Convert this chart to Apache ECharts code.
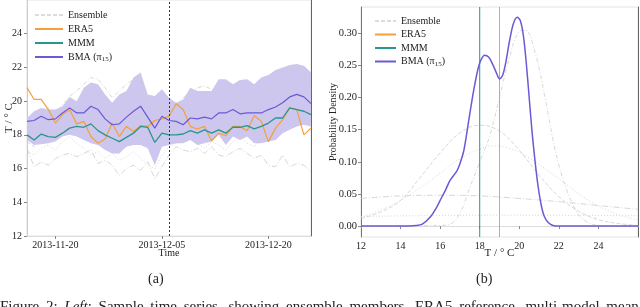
<!DOCTYPE html>
<html><head><meta charset="utf-8">
<script src="https://cdn.jsdelivr.net/npm/echarts@6/dist/echarts.min.js"></script>
<style>html,body{margin:0;padding:0;background:#fff}#c{width:640px;height:307px}</style>
</head><body><div id="c"></div>
<script>
// ---------- Left panel: time series ----------
const dates = ['2013-11-16','2013-11-17','2013-11-18','2013-11-19','2013-11-20','2013-11-21','2013-11-22','2013-11-23','2013-11-24','2013-11-25',
  '2013-11-26','2013-11-27','2013-11-28','2013-11-29','2013-11-30','2013-12-01','2013-12-02','2013-12-03','2013-12-04','2013-12-05',
  '2013-12-06','2013-12-07','2013-12-08','2013-12-09','2013-12-10','2013-12-11','2013-12-12','2013-12-13','2013-12-14','2013-12-15',
  '2013-12-16','2013-12-17','2013-12-18','2013-12-19','2013-12-20','2013-12-21','2013-12-22','2013-12-23','2013-12-24','2013-12-25','2013-12-26'];
const era5 = [20.8,20.1,20.1,19.5,18.7,19.2,19.5,18.65,18.8,17.9,17.5,17.75,18.7,17.9,18.5,18.2,18.55,18.5,18.85,18.95,
  19.1,19.85,19.5,18.5,18.35,18.5,17.65,18.1,17.95,18.5,18.5,18.25,19.15,18.8,17.6,18.4,18.9,19.6,19.5,18.0,18.4];
const mmm = [18.0,17.7,18.05,17.9,17.85,18.1,18.4,18.5,18.45,18.65,18.25,18.0,17.8,17.6,17.85,18.1,18.5,18.45,17.55,18.1,
  18.0,18.0,18.05,18.25,18.1,18.3,18.1,18.3,18.1,18.45,18.45,18.55,18.35,18.5,18.7,19.0,19.0,19.6,19.5,19.4,19.2];
const bma = [18.8,18.85,19.1,18.9,18.95,19.3,19.6,19.3,19.3,19.7,19.5,18.95,18.6,18.65,19.05,19.4,19.7,19.05,18.4,19.1,
  18.85,18.8,18.6,19.0,18.95,19.05,18.95,19.3,19.3,19.5,19.25,19.3,19.3,19.3,19.5,19.65,19.9,20.25,20.4,20.25,19.85];
const bandLow = [17.7,17.4,17.45,17.5,17.6,17.9,18.0,17.9,17.7,17.5,17.4,17.1,16.9,16.9,17.3,17.4,17.4,17.2,16.2,17.3,
  17.4,17.5,17.5,17.7,17.4,17.5,17.6,18.0,17.4,17.9,17.7,17.9,17.5,17.5,17.6,17.7,18.1,18.3,18.5,18.6,18.5];
const bandHigh = [19.0,19.4,19.6,19.5,19.5,19.7,20.25,20.0,20.8,21.1,21.0,20.4,19.9,20.4,20.6,21.4,21.7,20.4,20.3,20.7,
  20.2,19.9,20.1,20.8,20.6,20.6,20.6,21.3,21.3,21.0,21.25,21.3,21.0,21.4,21.55,21.85,22.0,22.15,22.2,22.1,21.7];
const ens1 = [18.4,18.9,19.3,19.6,19.2,19.8,20.3,20.6,21.0,21.4,21.3,20.8,20.2,20.6,21.0,21.3,21.5,20.1,19.5,19.6,
  19.2,19.6,20.2,20.5,20.8,20.9,20.7,20.6,20.9,21.0,20.7,20.2,19.8,20.1,20.6,21.2,21.6,21.9,22.1,21.4,20.7];
const ens2 = [17.6,17.3,17.9,18.2,18.0,18.6,18.3,18.9,19.3,18.8,18.4,18.1,17.5,17.8,18.3,18.9,19.4,18.7,17.8,18.4,
  17.8,18.6,19.0,19.2,18.7,18.4,17.9,18.5,18.2,18.6,18.9,18.4,18.0,18.8,19.2,19.6,20.1,20.6,21.2,21.6,20.9];
const ens3 = [17.0,16.8,17.2,17.4,17.1,17.6,17.9,17.5,17.2,16.8,17.0,16.6,16.9,16.5,16.7,17.0,16.6,16.2,16.0,16.8,
  17.3,17.5,17.6,17.8,17.5,17.2,17.6,17.4,17.1,17.6,17.9,17.5,17.3,17.7,18.0,18.3,18.6,18.5,18.9,18.6,18.2];
const ens4 = [17.2,16.1,16.4,16.2,16.6,16.8,16.9,16.7,16.9,17.1,16.3,16.5,16.2,15.6,16.0,16.2,15.9,16.4,15.4,16.1,
  16.8,17.3,17.1,17.0,17.2,16.9,17.3,16.8,16.7,17.0,17.2,16.9,16.6,16.8,16.2,16.1,16.8,16.1,16.3,16.2,15.8];
const dividerDate = '2013-12-06';
const xTickDates = ['2013-11-20','2013-12-05','2013-12-20'];
const yTicksLeft = [12,14,16,18,20,22,24];

// ---------- Right panel: densities ----------
const densBMA = [[12,0],[14,0],[14.8,0.001],[15.1,0.003],[15.5,0.014],[15.8,0.028],[16.0,0.040],[16.3,0.058],[16.5,0.071],
  [16.85,0.086],[17.0,0.097],[17.2,0.118],[17.5,0.175],[17.7,0.212],[17.9,0.243],[18.05,0.258],[18.25,0.266],[18.45,0.263],
  [18.65,0.252],[18.85,0.238],[19.0,0.229],[19.15,0.234],[19.3,0.252],[19.5,0.287],[19.7,0.315],[19.9,0.325],[20.05,0.320],
  [20.2,0.298],[20.35,0.255],[20.5,0.200],[20.65,0.145],[20.8,0.100],[20.95,0.062],[21.1,0.034],[21.25,0.016],[21.45,0.006],
  [21.7,0.001],[22.0,0],[26,0]];
const densEns1 = [[12,0],[16,0.001],[16.5,0.003],[17,0.02],[17.5,0.06],[18,0.1],[18.5,0.14],[19,0.2],[19.5,0.262],[20,0.303],
  [20.3,0.305],[20.8,0.27],[21.3,0.2],[21.7,0.135],[22,0.095],[22.4,0.056],[22.8,0.028],[23.1,0.014],[23.6,0.004],[24.2,0],[26,0]];
const densEns2 = [[12,0.012],[13,0.022],[14,0.04],[15,0.076],[16,0.114],[17,0.145],[18,0.157],[19,0.148],[20,0.118],[21,0.079],
  [22,0.046],[23,0.023],[24,0.01],[25,0.004],[26,0.001]];
const densEns3 = [[12,0.014],[13,0.025],[14,0.04],[15,0.06],[16,0.082],[17,0.105],[18,0.12],[18.7,0.125],[19.5,0.121],[20.5,0.106],
  [21.5,0.085],[22.5,0.062],[23.5,0.04],[24.5,0.024],[25.5,0.013],[26,0.01]];
const densEns4 = [[12,0.043],[14,0.047],[16,0.048],[18,0.047],[20,0.043],[22,0.038],[24,0.032],[26,0.026]];
const densEns5 = [[12,0.015],[19,0.017],[26,0.016]];
const mmmValue = 18.0;
const era5Value = 19.0;
const yTicksRight = [0,0.05,0.10,0.15,0.20,0.25,0.30];
const xTicksRight = [12,14,16,18,20,22,24];

const C_ERA = '#f5a03a', C_MMM = '#2a958f', C_BMA = '#6a5ad4', C_BAND = '#cdc6ee', C_ENS = '#cdcdcd';
const SERIF = '"Liberation Serif","Times New Roman",serif';
const TXT = '#222';

const chart = echarts.init(document.getElementById('c'), null, {renderer: 'canvas'});
const ensL = [ens1, ens2, ens3, ens4];
const ensR = [densEns1, densEns2, densEns3, densEns4, densEns5];
const ensTypes = [[4,2,1,2],[4,2],[1,2],[6,2,1,2],[1,2]];

const series = [];
series.push({type:'line', xAxisIndex:0, yAxisIndex:0, stack:'band', data:bandLow, symbol:'none', lineStyle:{opacity:0}, silent:true, z:1});
series.push({type:'line', xAxisIndex:0, yAxisIndex:0, stack:'band', data:bandHigh.map((v,i)=>+(v-bandLow[i]).toFixed(3)), symbol:'none',
  lineStyle:{opacity:0}, areaStyle:{color:C_BAND, opacity:1}, silent:true, z:1});
ensL.forEach((d,i)=>series.push({name:'Ensemble', type:'line', xAxisIndex:0, yAxisIndex:0, data:d, symbol:'none',
  lineStyle:{color:C_ENS, width:0.8, type:ensTypes[i]}, z:2}));
series.push({name:'ERA5', type:'line', xAxisIndex:0, yAxisIndex:0, data:era5, symbol:'none', lineStyle:{color:C_ERA, width:1.2}, z:3});
series.push({name:'MMM', type:'line', xAxisIndex:0, yAxisIndex:0, data:mmm, symbol:'none', lineStyle:{color:C_MMM, width:1.3}, z:3});
series.push({name:'BMA', type:'line', xAxisIndex:0, yAxisIndex:0, data:bma, symbol:'none', lineStyle:{color:C_BMA, width:1.2}, z:4,
  markLine:{silent:true, symbol:'none', label:{show:false}, lineStyle:{color:'#333', type:[2,2], width:1},
    data:[{xAxis:dividerDate}]}});
ensR.forEach((d,i)=>series.push({name:'Ensemble', type:'line', xAxisIndex:1, yAxisIndex:1, data:d, symbol:'none', smooth:0.4,
  lineStyle:{color:C_ENS, width:0.8, type:ensTypes[i]}, z:2}));
series.push({name:'ERA5', type:'line', xAxisIndex:1, yAxisIndex:1, data:[[era5Value,-0.017],[era5Value,0.341]], symbol:'none',
  lineStyle:{color:C_ERA, width:1}, z:3});
series.push({name:'MMM', type:'line', xAxisIndex:1, yAxisIndex:1, data:[[mmmValue,-0.017],[mmmValue,0.341]], symbol:'none',
  lineStyle:{color:C_MMM, width:1}, z:3});
series.push({name:'BMA', type:'line', xAxisIndex:1, yAxisIndex:1, data:densBMA, symbol:'none', smooth:0.3,
  lineStyle:{color:C_BMA, width:1.5}, z:4});

const tickLbl = {fontFamily:SERIF, fontSize:10, color:TXT};
const legText = {fontFamily:SERIF, fontSize:10, color:TXT,
  rich:{a:{fontFamily:SERIF, fontSize:10, color:TXT}, s:{fontFamily:SERIF, fontSize:7, color:TXT, padding:[5,0,0,0]}}};
const legFmt = n => n==='BMA' ? '{a|BMA (π}{s|15}{a|)}' : n;
const legData = [{name:'Ensemble', lineStyle:{type:[4,2], color:'#dcdcdc'}}, 'ERA5', 'MMM', 'BMA'];
const caption = 'Figure 2: {i|Left}: Sample time series, showing ensemble members, ERA5 reference, multi-model mean';

chart.setOption({
  animation:false,
  backgroundColor:'#fff',
  grid:[
    {left:27, right:329, top:0, bottom:71, show:true, borderColor:'#e2e2e2', borderWidth:1},
    {left:361, right:2, top:7, bottom:70, show:true, borderColor:'#e2e2e2', borderWidth:1}
  ],
  xAxis:[
    {gridIndex:0, type:'category', data:dates, boundaryGap:false,
      axisLine:{lineStyle:{color:'#ddd'}},
      axisTick:{show:true, length:3, lineStyle:{color:'#888'}, interval:(i,v)=>xTickDates.includes(v)},
      axisLabel:{...tickLbl, margin:4, interval:(i,v)=>xTickDates.includes(v)},
      splitLine:{show:false},
      name:'Time', nameLocation:'middle', nameGap:17, nameMoveOverlap:false,
      nameTextStyle:{fontFamily:SERIF, fontSize:10, color:TXT, verticalAlign:'middle'}},
    {gridIndex:1, type:'value', min:12, max:26,
      axisLine:{lineStyle:{color:'#ddd'}},
      axisTick:{show:true, length:3, lineStyle:{color:'#888'}, customValues:xTicksRight},
      axisLabel:{...tickLbl, margin:4, customValues:xTicksRight},
      splitLine:{show:false},
      name:'T / ° C', nameLocation:'middle', nameGap:16, nameMoveOverlap:false,
      nameTextStyle:{fontFamily:SERIF, fontSize:11, color:TXT, verticalAlign:'middle'}}
  ],
  yAxis:[
    {gridIndex:0, type:'value', min:12, max:26,
      axisLine:{show:true, lineStyle:{color:'#ccc'}},
      axisTick:{show:true, length:3, lineStyle:{color:'#888'}, customValues:yTicksLeft},
      axisLabel:{...tickLbl, margin:5, customValues:yTicksLeft},
      splitLine:{show:false},
      name:'T / ° C', nameLocation:'middle', nameGap:18, nameMoveOverlap:false,
      nameTextStyle:{fontFamily:SERIF, fontSize:11, color:TXT, verticalAlign:'middle'}},
    {gridIndex:1, type:'value', min:-0.017, max:0.341,
      axisLine:{show:true, lineStyle:{color:'#777'}},
      axisTick:{show:true, length:3, lineStyle:{color:'#888'}, customValues:yTicksRight},
      axisLabel:{...tickLbl, fontSize:10.5, margin:4, customValues:yTicksRight, formatter:v=>v.toFixed(2)},
      splitLine:{show:false},
      name:'Probability Density', nameLocation:'middle', nameGap:28, nameMoveOverlap:false,
      nameTextStyle:{fontFamily:SERIF, fontSize:10, color:TXT, verticalAlign:'middle'}},
    {gridIndex:0, type:'value', position:'right', axisLine:{show:true, lineStyle:{color:'#666'}}, axisTick:{show:false},
      axisLabel:{show:false}, splitLine:{show:false}},
    {gridIndex:1, type:'value', position:'right', axisLine:{show:true, lineStyle:{color:'#666'}}, axisTick:{show:false},
      axisLabel:{show:false}, splitLine:{show:false}}
  ],
  legend:[
    {left:29, top:5, orient:'vertical', itemWidth:28, itemHeight:10, itemGap:4, textStyle:legText, formatter:legFmt,
      itemStyle:{opacity:0}, data:legData, selectedMode:false},
    {left:369, top:11, orient:'vertical', itemWidth:21, itemHeight:10, itemGap:3.5, textStyle:legText, formatter:legFmt,
      itemStyle:{opacity:0}, data:legData, selectedMode:false}
  ],
  graphic:[
    {type:'text', left:148, top:272, style:{text:'(a)', font:'14px '+SERIF, fill:TXT}},
    {type:'text', left:476, top:272, style:{text:'(b)', font:'14px '+SERIF, fill:TXT}},
    {type:'text', left:0, top:300, style:{
      text: caption.replace(/ /g, ' \u2009'),
      font:'15px '+SERIF, fill:TXT,
      rich:{i:{fontFamily:SERIF, fontSize:15, fontStyle:'italic', fill:TXT}}}}
  ],
  series
});
</script></body></html>
